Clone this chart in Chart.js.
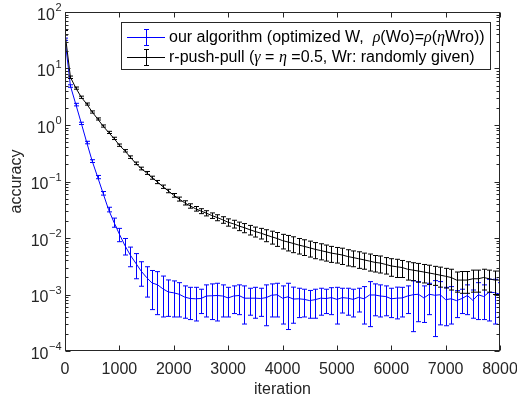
<!DOCTYPE html>
<html>
<head>
<meta charset="utf-8">
<script src="https://cdn.jsdelivr.net/npm/chart.js@4.4.1/dist/chart.umd.min.js"></script>
<style>
  html, body { margin: 0; padding: 0; background: #fff; }
  canvas { display: block; }
</style>
</head>
<body>
<canvas id="chart" width="517" height="400"></canvas>
<script>
// iteration grid (x)
const iterations = [
  0, 100, 200, 300, 400, 500, 600, 700, 800, 900,
  1000, 1100, 1200, 1300, 1400, 1500, 1600, 1700, 1800, 1900,
  2000, 2100, 2200, 2300, 2400, 2500, 2600, 2700, 2800, 2900,
  3000, 3100, 3200, 3300, 3400, 3500, 3600, 3700, 3800, 3900,
  4000, 4100, 4200, 4300, 4400, 4500, 4600, 4700, 4800, 4900,
  5000, 5100, 5200, 5300, 5400, 5500, 5600, 5700, 5800, 5900,
  6000, 6100, 6200, 6300, 6400, 6500, 6600, 6700, 6800, 6900,
  7000, 7100, 7200, 7300, 7400, 7500, 7600, 7700, 7800, 7900,
  8000
];

// our algorithm: mean and error
const ourMean = [
  33, 4.9, 2.3, 1.07, 0.49, 0.23, 0.12, 0.062, 0.032, 0.019,
  0.0117, 0.0074, 0.005, 0.0036, 0.0026, 0.002, 0.0016, 0.00149, 0.00126, 0.00111,
  0.00107, 0.00101, 0.0009, 0.00085, 0.00084, 0.00085, 0.00094, 0.00095, 0.00096, 0.00094,
  0.00087, 0.00094, 0.00096, 0.00086, 0.00086, 0.00086, 0.00085, 0.00088, 0.00097, 0.00099,
  0.00086, 0.00091, 0.00083, 0.00084, 0.00082, 0.00078, 0.00081, 0.00086, 0.00085, 0.00088,
  0.00082, 0.00088, 0.00086, 0.00082, 0.00089, 0.00084, 0.00098, 0.00098, 0.00094, 0.00092,
  0.00084, 0.00086, 0.00087, 0.00094, 0.00099, 0.00101, 0.00087, 0.00101, 0.00097, 0.00099,
  0.00081, 0.00084, 0.00078, 0.00085, 0.00096, 0.00079, 0.00099, 0.00092, 0.0011, 0.00108,
  0.00101
];
const ourErr = [
  1.5, 0.25, 0.12, 0.05, 0.025, 0.013, 0.008, 0.0045, 0.003, 0.0035,
  0.0031, 0.0024, 0.0019, 0.0017, 0.0012, 0.0011, 0.00106, 0.00105, 0.00086, 0.0007,
  0.00067, 0.00061, 0.00052, 0.00049, 0.0005, 0.00039, 0.00054, 0.00059, 0.00062, 0.00054,
  0.00047, 0.00048, 0.00052, 0.00056, 0.00043, 0.00048, 0.00044, 0.0006, 0.00057, 0.00059,
  0.00056, 0.00067, 0.00052, 0.00045, 0.00042, 0.0004, 0.00043, 0.00043, 0.00039, 0.00044,
  0.00052, 0.00041, 0.00043, 0.00042, 0.0004, 0.00054, 0.00071, 0.00056, 0.00054, 0.0005,
  0.00045, 0.00049, 0.00047, 0.00048, 0.00077, 0.00068, 0.00055, 0.00057, 0.00079, 0.0007,
  0.00053, 0.00054, 0.00039, 0.00039, 0.00052, 0.00041, 0.00063, 0.00056, 0.00076, 0.00078,
  0.00061
];

// r-push-pull: mean and error
const pushMean = [
  43, 7.0, 4.5, 3.1, 2.35, 1.7, 1.28, 0.96, 0.74, 0.58,
  0.44, 0.35, 0.27, 0.21, 0.17, 0.142, 0.117, 0.098, 0.081, 0.068,
  0.057, 0.049, 0.042, 0.037, 0.033, 0.030, 0.0275, 0.025, 0.023, 0.021,
  0.019, 0.0178, 0.0163, 0.0152, 0.014, 0.013, 0.0122, 0.0113, 0.0105, 0.0098,
  0.009, 0.0085, 0.008, 0.0075, 0.0071, 0.0067, 0.0063, 0.006, 0.0057, 0.0054,
  0.0052, 0.005, 0.0047, 0.0045, 0.0043, 0.0041, 0.0039, 0.0037, 0.0036, 0.0034,
  0.0032, 0.0031, 0.003, 0.0028, 0.0027, 0.0026, 0.0025, 0.0024, 0.0023, 0.0022,
  0.0021, 0.002, 0.0018, 0.0018, 0.0018, 0.0019, 0.0019, 0.002, 0.0019, 0.0018,
  0.0018
];
const pushErr = [
  4, 0.35, 0.2, 0.14, 0.1, 0.075, 0.055, 0.042, 0.033, 0.027,
  0.021, 0.017, 0.014, 0.011, 0.0095, 0.0085, 0.0072, 0.0063, 0.0055, 0.0048,
  0.0043, 0.004, 0.0036, 0.0033, 0.0031, 0.003, 0.0029, 0.0028, 0.0028, 0.0028,
  0.0028, 0.0028, 0.0028, 0.0028, 0.0027, 0.0026, 0.0026, 0.0027, 0.0027, 0.0027,
  0.0026, 0.0026, 0.0025, 0.0023, 0.0022, 0.0021, 0.002, 0.0019, 0.0018, 0.0017,
  0.0016, 0.0016, 0.0015, 0.0014, 0.0014, 0.0013, 0.0013, 0.0012, 0.0012, 0.0011,
  0.0011, 0.0011, 0.001, 0.001, 0.00095, 0.00095, 0.0009, 0.0009, 0.00085, 0.00085,
  0.0008, 0.0008, 0.0007, 0.00075, 0.00075, 0.0008, 0.0008, 0.0008, 0.0008, 0.0008,
  0.0008
];

// axis ticks
const xTicks = [0, 1000, 2000, 3000, 4000, 5000, 6000, 7000, 8000];
const yTickExps = [2, 1, 0, -1, -2, -3, -4];

const errorsByDataset = [ourErr, pushErr];
const AXIS = '#262626';

const errorBars = {
  id: 'errorBars',
  afterDatasetDraw(chart, args) {
    const errs = errorsByDataset[args.index];
    const ds = chart.data.datasets[args.index];
    const ys = chart.scales.y;
    const ctx = chart.ctx;
    const a = chart.chartArea;
    ctx.save();
    ctx.beginPath();
    ctx.rect(a.left, a.top, a.right - a.left, a.bottom - a.top);
    ctx.clip();
    ctx.strokeStyle = ds.borderColor;
    ctx.lineWidth = 1;
    args.meta.data.forEach((pt, i) => {
      const v = ds.data[i].y;
      const e = errs[i];
      const top = ys.getPixelForValue(v + e);
      const bot = ys.getPixelForValue(Math.max(v - e, 1e-6));
      const x = Math.round(pt.x) + 0.5;
      ctx.beginPath();
      ctx.moveTo(x, top);
      ctx.lineTo(x, bot);
      ctx.moveTo(x - 2.5, top);
      ctx.lineTo(x + 2.5, top);
      ctx.moveTo(x - 2.5, bot);
      ctx.lineTo(x + 2.5, bot);
      ctx.stroke();
    });
    ctx.restore();
  }
};

function drawSegments(ctx, x, y, parts) {
  parts.forEach(([txt, italic]) => {
    ctx.font = italic ? 'italic 16px "Liberation Serif", serif' : '16px "Liberation Sans", Arial, sans-serif';
    ctx.fillText(txt, x, y);
    x += ctx.measureText(txt).width;
  });
}

const frame = {
  id: 'frame',
  afterDraw(chart) {
    const ctx = chart.ctx;
    const a = chart.chartArea;
    const xs = chart.scales.x;
    const ys = chart.scales.y;
    const L = Math.round(a.left) + 0.5, R = Math.round(a.right) - 0.5;
    const T = Math.round(a.top) + 0.5, B = Math.round(a.bottom) - 0.5;
    ctx.save();
    ctx.strokeStyle = AXIS;
    ctx.lineWidth = 1;
    ctx.strokeRect(L, T, R - L, B - T);

    // x ticks bottom and top
    ctx.beginPath();
    xTicks.forEach(t => {
      const x = Math.round(xs.getPixelForValue(t)) + 0.5;
      ctx.moveTo(x, B); ctx.lineTo(x, B - 5);
      ctx.moveTo(x, T); ctx.lineTo(x, T + 5);
    });
    // y major and minor ticks left and right
    yTickExps.forEach(p => {
      const y = Math.round(ys.getPixelForValue(Math.pow(10, p))) + 0.5;
      ctx.moveTo(L, y); ctx.lineTo(L + 5, y);
      ctx.moveTo(R, y); ctx.lineTo(R - 5, y);
      if (p > -4) {
        for (let m = 2; m <= 9; m++) {
          const ym = Math.round(ys.getPixelForValue(m * Math.pow(10, p - 1))) + 0.5;
          ctx.moveTo(L, ym); ctx.lineTo(L + 3, ym);
          ctx.moveTo(R, ym); ctx.lineTo(R - 3, ym);
        }
      }
    });
    ctx.stroke();

    // tick labels
    ctx.fillStyle = AXIS;
    ctx.font = '16px "Liberation Sans", Arial, sans-serif';
    ctx.textAlign = 'center';
    ctx.textBaseline = 'middle';
    xTicks.forEach(t => {
      ctx.fillText(String(t), xs.getPixelForValue(t), a.bottom + 19);
    });
    ctx.textAlign = 'left';
    yTickExps.forEach(p => {
      const y = ys.getPixelForValue(Math.pow(10, p));
      const exp = String(p).replace('-', '\u2212');
      ctx.font = '11px "Liberation Sans", Arial, sans-serif';
      const we = ctx.measureText(exp).width;
      ctx.font = '16px "Liberation Sans", Arial, sans-serif';
      const wb = ctx.measureText('10').width;
      const x0 = a.left - 4 - we - wb;
      ctx.fillText('10', x0, y + 3.5);
      ctx.font = '11px "Liberation Sans", Arial, sans-serif';
      ctx.fillText(exp, x0 + wb + 0.5, y - 4);
    });

    // axis titles
    ctx.font = '16px "Liberation Sans", Arial, sans-serif';
    ctx.textAlign = 'center';
    ctx.fillText('iteration', (a.left + a.right) / 2, a.bottom + 39);
    ctx.save();
    ctx.translate(17, (a.top + a.bottom) / 2);
    ctx.rotate(-Math.PI / 2);
    ctx.fillText('accuracy', 0, 0);
    ctx.restore();

    // legend
    const lx = 121.5, ly = 22.5, lw = 369, lh = 47;
    ctx.fillStyle = '#fff';
    ctx.fillRect(lx, ly, lw, lh);
    ctx.strokeStyle = AXIS;
    ctx.strokeRect(lx, ly, lw, lh);
    const rows = [
      { color: '#0000ff', y: 37.5, parts: [
        ['our algorithm (optimized W,  ', false], ['\u03c1', true], ['(Wo)=', false],
        ['\u03c1', true], ['(', false], ['\u03b7', true], ['Wro))', false]] },
      { color: '#000000', y: 57.5, parts: [
        ['r-push-pull (', false], ['\u03b3', true], [' = ', false], ['\u03b7', true],
        [' =0.5, Wr: randomly given)', false]] }
    ];
    rows.forEach(r => {
      ctx.strokeStyle = r.color;
      ctx.beginPath();
      ctx.moveTo(127, r.y); ctx.lineTo(165, r.y);
      ctx.moveTo(146.5, r.y - 8); ctx.lineTo(146.5, r.y + 8);
      ctx.moveTo(144, r.y - 8); ctx.lineTo(149, r.y - 8);
      ctx.moveTo(144, r.y + 8); ctx.lineTo(149, r.y + 8);
      ctx.stroke();
      ctx.fillStyle = '#000';
      ctx.textAlign = 'left';
      ctx.textBaseline = 'middle';
      drawSegments(ctx, 169, r.y, r.parts);
    });
    ctx.restore();
  }
};

new Chart(document.getElementById('chart').getContext('2d'), {
  type: 'line',
  data: {
    datasets: [
      {
        label: 'our algorithm',
        data: iterations.map((x, i) => ({ x: x, y: ourMean[i] })),
        borderColor: '#0000ff',
        borderWidth: 1,
        pointRadius: 0,
        tension: 0,
        order: 2
      },
      {
        label: 'r-push-pull',
        data: iterations.map((x, i) => ({ x: x, y: pushMean[i] })),
        borderColor: '#000000',
        borderWidth: 1,
        pointRadius: 0,
        tension: 0,
        order: 1
      }
    ]
  },
  options: {
    responsive: false,
    animation: false,
    devicePixelRatio: 1,
    layout: { padding: { left: 65, right: 17, top: 12, bottom: 49 } },
    plugins: { legend: { display: false }, tooltip: { enabled: false } },
    scales: {
      x: { type: 'linear', min: 0, max: 8000, display: false },
      y: { type: 'logarithmic', min: 1e-4, max: 1e2, display: false }
    }
  },
  plugins: [errorBars, frame]
});
</script>
</body>
</html>
